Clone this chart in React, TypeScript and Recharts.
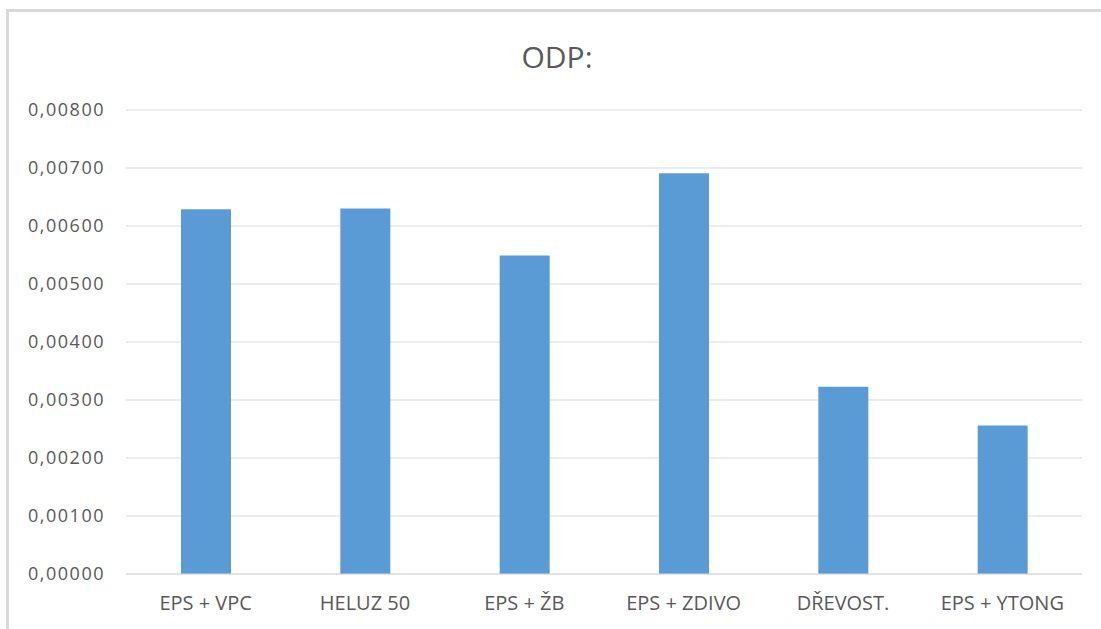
import { Bar, BarChart, CartesianGrid, XAxis, YAxis } from 'recharts';

// ODP values per wall construction
const categories = ['EPS + VPC', 'HELUZ 50', 'EPS + ŽB', 'EPS + ZDIVO', 'DŘEVOST.', 'EPS + YTONG'];
const odp = [0.00629, 0.0063, 0.00549, 0.00691, 0.00323, 0.00256];
const yTicks = [0, 0.001, 0.002, 0.003, 0.004, 0.005, 0.006, 0.007, 0.008];

const data = categories.map((name, i) => ({ name, odp: odp[i] }));

const TEXT = '#595959';
const GRID = '#d9d9d9';
const FONT = '"Open Sans", sans-serif';

const fmt = (v: number) => v.toFixed(5).replace('.', ',');

export default function App() {
  return (
    <div
      style={{
        position: 'absolute',
        left: 0,
        top: 0,
        width: 1101,
        height: 629,
        background: '#fff',
        overflow: 'hidden',
        fontFamily: FONT,
      }}
    >
      {/* chart frame, only the top and left edges show */}
      <div
        style={{
          position: 'absolute',
          left: 6,
          top: 9,
          width: 1200,
          height: 700,
          borderTop: `3px solid ${GRID}`,
          borderLeft: `3px solid ${GRID}`,
        }}
      />
      <div
        style={{
          position: 'absolute',
          left: 457,
          width: 200,
          top: 38,
          textAlign: 'center',
          fontSize: 30,
          color: TEXT,
          lineHeight: '38px',
        }}
      >
        ODP:
      </div>
      <div style={{ position: 'absolute', left: 0, top: 0 }}>
        <BarChart
          width={1101}
          height={629}
          data={data}
          margin={{ top: 110, right: 19, bottom: 0, left: 0 }}
          barSize={50}
        >
          <CartesianGrid vertical={false} stroke={GRID} strokeWidth={1} />
          <XAxis
            dataKey="name"
            height={55}
            axisLine={{ stroke: GRID }}
            tickLine={false}
            tickSize={0}
            tickMargin={22}
            interval={0}
            tick={{ fill: TEXT, fontSize: 20, fontFamily: FONT }}
          />
          <YAxis
            width={126}
            domain={[0, 0.008]}
            ticks={yTicks}
            tickFormatter={fmt}
            axisLine={false}
            tickLine={false}
            tickSize={0}
            tickMargin={21}
            tick={{ fill: TEXT, fontSize: 18, fontFamily: FONT, letterSpacing: 1.5 }}
          />
          <Bar dataKey="odp" fill="#5B9BD5" isAnimationActive={false} />
        </BarChart>
      </div>
    </div>
  );
}
